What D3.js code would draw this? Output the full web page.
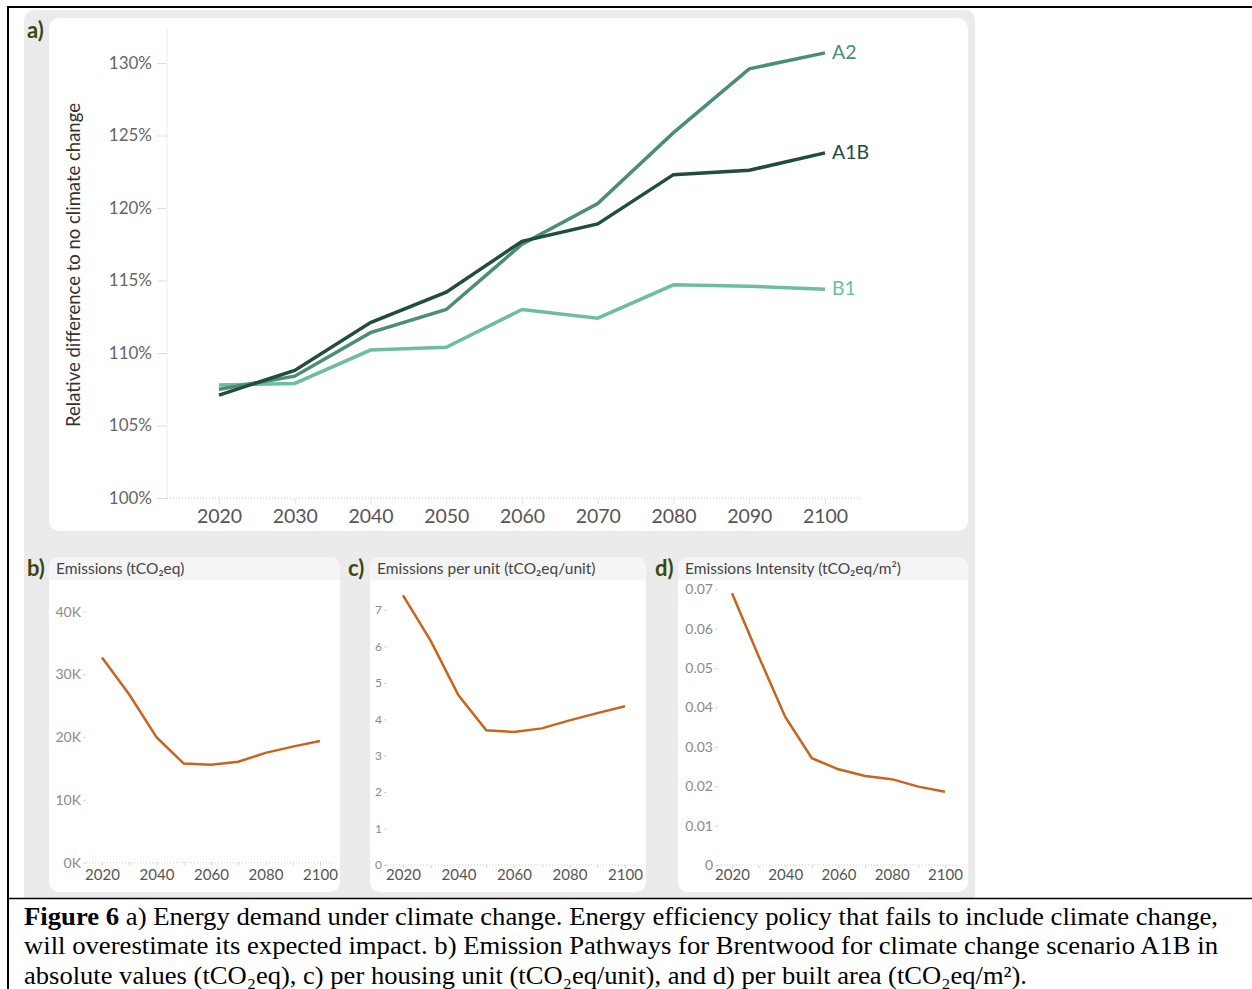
<!DOCTYPE html>
<html>
<head>
<meta charset="utf-8">
<script src="https://cdn.jsdelivr.net/npm/d3@7"></script>
<style>
body { margin: 0; background: #fff; }
svg { display: block; }
.tick text { font-family: Lato, "Open Sans", sans-serif; }
</style>
</head>
<body>
<div id="chart"></div>
<script>
// data
var years = [2020, 2030, 2040, 2050, 2060, 2070, 2080, 2090, 2100];
var scenarios = ["A2", "A1B", "B1"];
var a2 = [107.5, 108.4, 111.4, 113.0, 117.5, 120.3, 125.2, 129.6, 130.7];
var a1b = [107.1, 108.8, 112.1, 114.2, 117.7, 118.9, 122.3, 122.6, 123.8];
var b1 = [107.8, 107.9, 110.2, 110.4, 113.0, 112.4, 114.7, 114.6, 114.4];
var emissions = [32700, 26800, 20000, 15800, 15600, 16100, 17500, 18500, 19400];
var perUnit = [7.40, 6.15, 4.66, 3.70, 3.65, 3.75, 3.97, 4.17, 4.36];
var intensity = [0.0690, 0.0530, 0.0376, 0.0271, 0.0243, 0.0226, 0.0218, 0.0199, 0.0186];
var pctTicks = [100, 105, 110, 115, 120, 125, 130];
var smallYearTicks = [2020, 2040, 2060, 2080, 2100];
var minorYearTicks = [2020, 2030, 2040, 2050, 2060, 2070, 2080, 2090, 2100];
var captionLines = [
    [["Figure 6", true], [" a) Energy demand under climate change. Energy efficiency policy that fails to include climate change,", false]],
    [["will overestimate its expected impact. b) Emission Pathways for Brentwood for climate change scenario A1B in", false]],
    [["absolute values (tCO\u2082eq), c) per housing unit (tCO\u2082eq/unit), and d) per built area (tCO\u2082eq/m\u00B2).", false]]
];
var captionWidths = [1194, 1194, 1003];

var w = 1252, h = 989;
var font = "Lato, 'Open Sans', sans-serif";
var olive = "#3a4710";
var orange = "#c8641c";
var colors = {"A2": "#4b8d77", "A1B": "#214d3c", "B1": "#6dbd9f"};
var seriesVals = {"A2": a2, "A1B": a1b, "B1": b1};

var svg = d3.select("#chart").append("svg")
    .attr("width", w).attr("height", h);

//frame
svg.append("rect").attr("x", 24).attr("y", 10).attr("width", 951).attr("height", 888)
    .attr("rx", 10).attr("fill", "#ebebeb");
svg.append("rect").attr("x", 24).attr("y", 880).attr("width", 951).attr("height", 18)
    .attr("fill", "#ebebeb");

//panel a card
svg.append("rect").attr("x", 49).attr("y", 18).attr("width", 919).attr("height", 513)
    .attr("rx", 10).attr("fill", "#fff");

svg.append("text").attr("x", 27).attr("y", 38).text("a)")
    .attr("font-family", font).attr("font-weight", "bold").attr("font-size", 22).attr("fill", olive);

var x = d3.scaleLinear().domain([2020, 2100]).range([219, 825]);
var y = d3.scaleLinear().domain([100, 130]).range([498, 63]);

//y axis
var ga = svg.append("g");
ga.append("line").attr("x1", 167).attr("x2", 167).attr("y1", 28).attr("y2", 498)
    .attr("stroke", "#ececec");
var yAxis = ga.append("g").attr("transform", "translate(167,0)")
    .call(d3.axisLeft(y).tickValues(pctTicks).tickSize(10).tickPadding(5).tickFormat(function(d){ return d + "%"; }));
yAxis.select(".domain").remove();
yAxis.selectAll("line").attr("stroke", "#dddddd");
yAxis.selectAll("text").attr("font-size", 17).attr("fill", "#666");

//x axis
ga.append("line").attr("x1", 167).attr("x2", 862).attr("y1", 498).attr("y2", 498)
    .attr("stroke", "#cccccc").attr("stroke-dasharray", "1,2");
var xAxis = ga.append("g").attr("transform", "translate(0,498)")
    .call(d3.axisBottom(x).tickValues(years).tickSize(6).tickPadding(5).tickFormat(d3.format("d")));
xAxis.select(".domain").remove();
xAxis.selectAll("line").attr("stroke", "#e3e3e3");
xAxis.selectAll("text").attr("font-size", 19.5).attr("fill", "#555");

ga.append("text")
    .attr("transform", "translate(80,265) rotate(-90)")
    .attr("text-anchor", "middle")
    .attr("font-family", font).attr("font-size", 18.5).attr("fill", "#333")
    .text("Relative difference to no climate change");

var line = d3.line()
    .x(function(d, i){ return x(years[i]); })
    .y(function(d){ return y(d); });

["B1", "A2", "A1B"].forEach(function(s){
    ga.append("path")
        .attr("d", line(seriesVals[s]))
        .attr("fill", "none")
        .attr("stroke", colors[s])
        .attr("stroke-width", 3.5);
});

scenarios.forEach(function(s){
    var v = seriesVals[s];
    ga.append("text")
        .attr("x", x(2100) + 7)
        .attr("y", y(v[v.length - 1]) - 1)
        .attr("dy", "0.35em")
        .attr("font-family", font).attr("font-size", 19.5)
        .attr("fill", colors[s])
        .text(s);
});

//small panels
function smallPanel(opt){
    var g = svg.append("g");
    g.append("rect").attr("x", opt.left).attr("y", 557).attr("width", opt.width).attr("height", 335)
        .attr("rx", 10).attr("fill", "#fff");
    g.append("path")
        .attr("d", "M" + opt.left + ",580 V567 a10,10 0 0 1 10,-10 H" + (opt.left + opt.width - 10) +
            " a10,10 0 0 1 10,10 V580 Z")
        .attr("fill", "#f5f5f5");
    g.append("text").attr("x", opt.labelX).attr("y", 576).text(opt.label)
        .attr("font-family", font).attr("font-weight", "bold").attr("font-size", 22).attr("fill", olive);
    g.append("text").attr("x", opt.left + 7).attr("y", 574).text(opt.title)
        .attr("font-family", font).attr("font-size", 15.5).attr("fill", "#444");

    var sx = d3.scaleLinear().domain([2020, 2100]).range(opt.xRange);
    var sy = d3.scaleLinear().domain(opt.yDomain).range(opt.yRange);
    var y0 = opt.yRange[0];

    g.append("line").attr("x1", opt.axisX).attr("x2", opt.xEnd).attr("y1", y0).attr("y2", y0)
        .attr("stroke", "#cfcfcf").attr("stroke-dasharray", "1,2");

    var minor = g.append("g").attr("transform", "translate(0," + y0 + ")")
        .call(d3.axisBottom(sx).tickValues(minorYearTicks).tickSize(3).tickFormat(""));
    minor.select(".domain").remove();
    minor.selectAll("line").attr("stroke", "#d5d5d5");

    var xa = g.append("g").attr("transform", "translate(0," + y0 + ")")
        .call(d3.axisBottom(sx).tickValues(smallYearTicks).tickSize(0).tickPadding(869 - y0).tickFormat(d3.format("d")));
    xa.select(".domain").remove();
    xa.selectAll("text").attr("font-size", 15).attr("fill", "#555");

    var ya = g.append("g").attr("transform", "translate(" + opt.axisX + ",0)")
        .call(d3.axisLeft(sy).tickValues(opt.yTicks).tickSize(3).tickPadding(2).tickFormat(opt.fmt));
    ya.select(".domain").remove();
    ya.selectAll("line").attr("stroke", "#d5d5d5");
    ya.selectAll("text").attr("font-size", opt.tickSize).attr("fill", "#8a8a8a");

    g.append("path")
        .attr("d", d3.line()
            .x(function(d, i){ return sx(years[i]); })
            .y(function(d){ return sy(d); })(opt.values))
        .attr("fill", "none")
        .attr("stroke", orange)
        .attr("stroke-width", 2.5);
}

smallPanel({
    left: 49, width: 291, label: "b)", labelX: 27,
    title: "Emissions (tCO\u2082eq)",
    xRange: [102, 320], axisX: 86, xEnd: 333,
    yDomain: [0, 40000], yRange: [862.7, 611.7],
    yTicks: [0, 10000, 20000, 30000, 40000],
    fmt: function(d){ return (d / 1000) + "K"; },
    tickSize: 14,
    values: emissions
});

smallPanel({
    left: 370, width: 276, label: "c)", labelX: 348,
    title: "Emissions per unit (tCO\u2082eq/unit)",
    xRange: [403, 625], axisX: 387, xEnd: 638,
    yDomain: [0, 7], yRange: [865, 610],
    yTicks: [0, 1, 2, 3, 4, 5, 6, 7],
    fmt: d3.format("d"),
    tickSize: 12,
    values: perUnit
});

smallPanel({
    left: 678, width: 290, label: "d)", labelX: 655,
    title: "Emissions Intensity (tCO\u2082eq/m\u00B2)",
    xRange: [732, 945], axisX: 718, xEnd: 958,
    yDomain: [0, 0.07], yRange: [865, 589.3],
    yTicks: [0, 0.01, 0.02, 0.03, 0.04, 0.05, 0.06, 0.07],
    fmt: function(d){ return d === 0 ? "0" : d3.format(".2f")(d); },
    tickSize: 14,
    values: intensity
});

//borders and caption
svg.append("line").attr("x1", 8).attr("x2", w).attr("y1", 7).attr("y2", 7)
    .attr("stroke", "#000").attr("stroke-width", 2);
svg.append("line").attr("x1", 8).attr("x2", 8).attr("y1", 6).attr("y2", h)
    .attr("stroke", "#000").attr("stroke-width", 2);
svg.append("line").attr("x1", 8).attr("x2", w).attr("y1", 898.5).attr("y2", 898.5)
    .attr("stroke", "#000").attr("stroke-width", 1.5);

captionLines.forEach(function(parts, i){
    var t = svg.append("text")
        .attr("x", 24).attr("y", 925 + i * 29.3)
        .attr("font-family", "'Liberation Serif', 'Times New Roman', serif")
        .attr("font-size", 25.5).attr("fill", "#000")
        .attr("textLength", captionWidths[i])
        .attr("lengthAdjust", "spacingAndGlyphs");
    parts.forEach(function(p){
        t.append("tspan").attr("font-weight", p[1] ? "bold" : "normal").text(p[0]);
    });
});
</script>
</body>
</html>
